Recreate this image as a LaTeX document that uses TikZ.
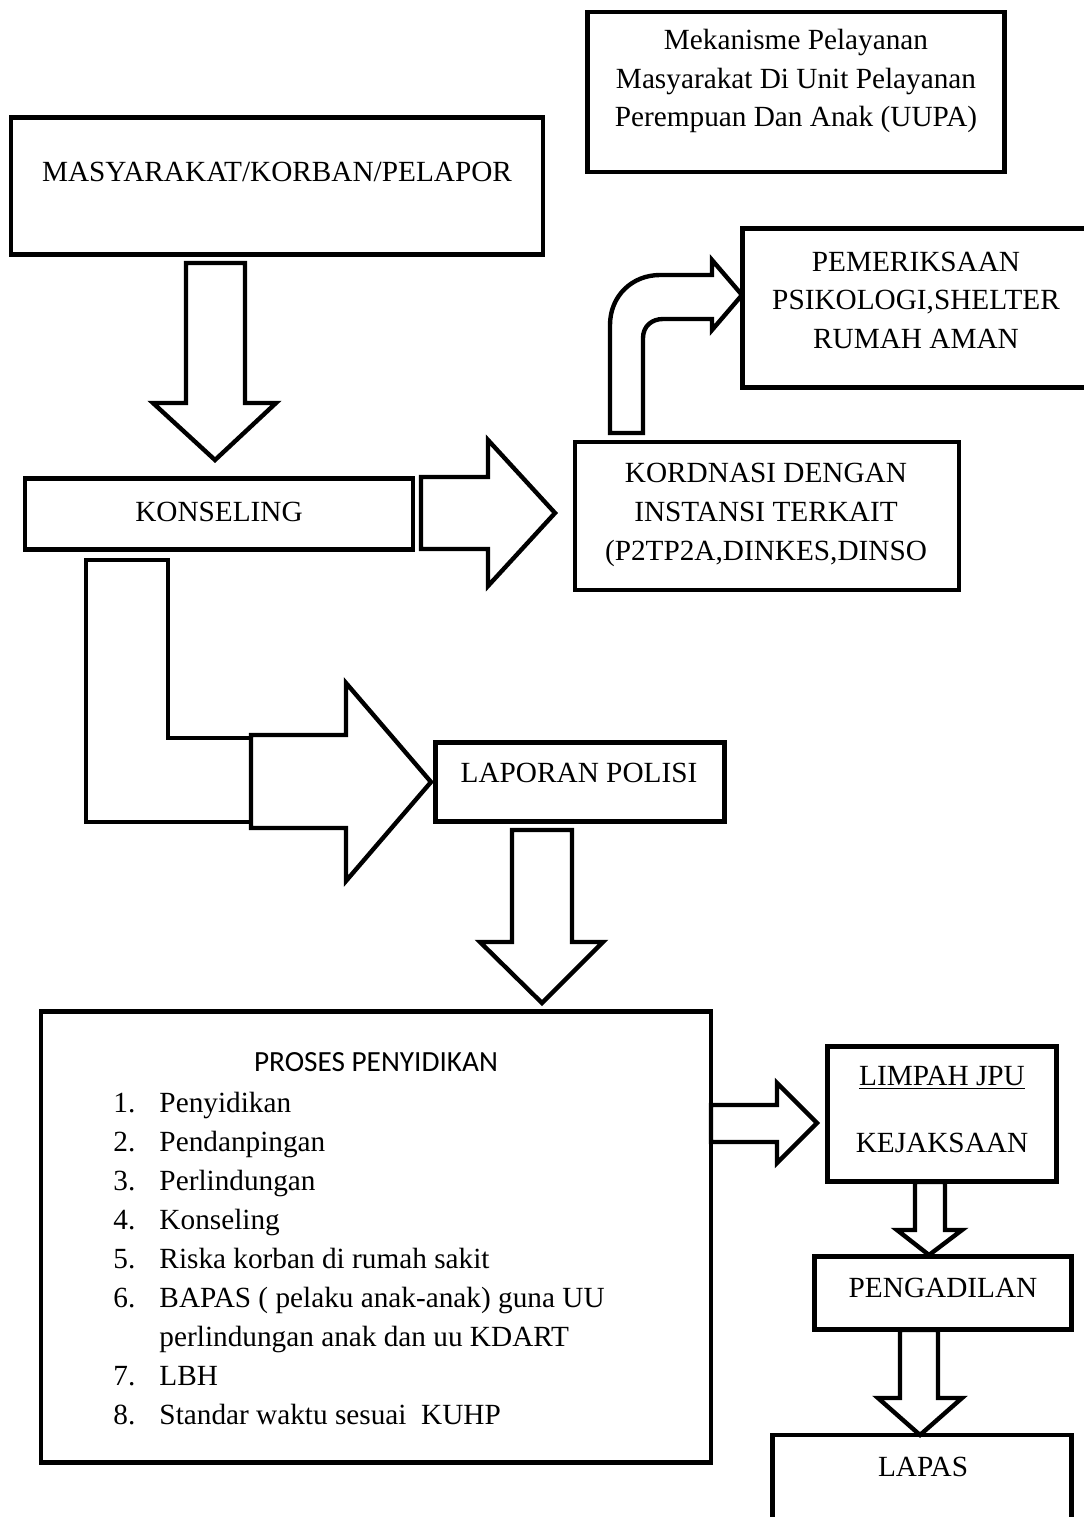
\documentclass[tikz,border=0pt]{standalone}
\usepackage{fontspec}
\setmainfont{Liberation Serif}
\newfontfamily\calibrifont{Carlito}
\usepackage{tikz}
\usetikzlibrary{positioning}

\begin{document}
\begin{tikzpicture}[x=0.41pt,y=-0.41pt,font=\fontsize{12}{14}\selectfont]
  \tikzstyle{box}=[draw=black, line width=1.8pt, fill=white, inner sep=0pt]
  \tikzstyle{blockarrow}=[draw=black, line width=1.8pt, fill=white, line join=miter]
  \tikzstyle{txt}=[align=center, inner sep=0pt, text=black]
  \tikzstyle{item}=[anchor=base west, inner sep=0pt, text=black]

  \path[use as bounding box] (0,0) rectangle (1084,1517);

  % boxes
  \node[box, minimum width=417*0.41pt, minimum height=160*0.41pt] (title) at (796,92) {};
  \node[box, minimum width=532*0.41pt, minimum height=137*0.41pt] (masy) at (277,186) {};
  \node[box, minimum width=388*0.41pt, minimum height=71*0.41pt] (konseling) at (219,514) {};
  \node[box, minimum width=384*0.41pt, minimum height=148*0.41pt] (koordinasi) at (767,516) {};
  \node[box, minimum width=355*0.41pt, minimum height=159*0.41pt] (periksa) at (920,308) {};
  \node[box, minimum width=289*0.41pt, minimum height=79*0.41pt] (laporan) at (580,782) {};
  \node[box, minimum width=670*0.41pt, minimum height=451*0.41pt] (proses) at (376,1237) {};
  \node[box, minimum width=229*0.41pt, minimum height=135*0.41pt] (limpah) at (942,1114) {};
  \node[box, minimum width=257*0.41pt, minimum height=73*0.41pt] (pengadilan) at (943,1293) {};
  \node[box, minimum width=299*0.41pt, minimum height=100*0.41pt] (lapas) at (922,1485) {};

  % texts
  \node[txt, font=\fontsize{12}{15.6}\selectfont] (titletext) at (796,81) {Mekanisme Pelayanan\\Masyarakat Di Unit Pelayanan\\Perempuan Dan Anak (UUPA)};
  \node[txt] (masytext) at (277,172) {MASYARAKAT/KORBAN/PELAPOR};
  \node[txt] (konselingtext) at (219,512) {KONSELING};
  \node[txt, font=\fontsize{12}{16}\selectfont] (koordinasitext) at (766,515) {KORDNASI DENGAN\\INSTANSI TERKAIT\\(P2TP2A,DINKES,DINSO};
  \node[txt, font=\fontsize{12}{15.8}\selectfont] (periksatext) at (916,300) {PEMERIKSAAN\\PSIKOLOGI,SHELTER\\RUMAH AMAN};
  \node[txt] (laporantext) at (579,773) {LAPORAN POLISI};
  \node[txt, font=\calibrifont\fontsize{12}{14}\selectfont] (prosestext) at (376,1062) {PROSES PENYIDIKAN};
  \foreach \n/\row/\t in {1./0/Penyidikan, 2./1/Pendanpingan, 3./2/Perlindungan, 4./3/Konseling,
      5./4/Riska korban di rumah sakit, 6./5/BAPAS ( pelaku anak-anak) guna UU,
      /6/perlindungan anak dan uu KDART, 7./7/LBH, 8./8/Standar waktu sesuai\ \ KUHP} {
    \node[item] (num\row) at (113,1112+39*\row) {\n};
    \node[item] (itm\row) at (159,1112+39*\row) {\t};
  }
  \node[txt] (limpahtext) at (942,1078) {\underline{LIMPAH JPU}};
  \node[txt] (kejaksaantext) at (942,1143) {KEJAKSAAN};
  \node[txt] (pengadilantext) at (943,1288) {PENGADILAN};
  \node[txt] (lapastext) at (923,1467) {LAPAS};

  % block arrows
  \draw[blockarrow] (186,263) -- (245,263) -- (245,403) -- (276,403) -- (215,460) -- (153,403) -- (186,403) -- cycle;
  \draw[blockarrow] (421,477) -- (488,477) -- (488,440) -- (555,513) -- (488,586) -- (488,549) -- (421,549) -- cycle;
  \draw[blockarrow] (610,433) -- (610,325) .. controls (610,296) and (632,275) .. (660,275) -- (712,275) -- (712,260)
    -- (742,295) -- (712,330) -- (712,319) -- (663,319) .. controls (652,319) and (643,326) .. (643,338) -- (643,433) -- cycle;
  \draw[blockarrow] (86,560) -- (168,560) -- (168,738) -- (251,738) -- (251,822) -- (86,822) -- cycle;
  \draw[blockarrow] (251,735) -- (346,735) -- (346,683) -- (431,782) -- (346,881) -- (346,828) -- (251,828) -- cycle;
  \draw[blockarrow] (512,830) -- (572,830) -- (572,942) -- (603,942) -- (542,1003) -- (480,942) -- (512,942) -- cycle;
  \draw[blockarrow] (711,1105) -- (777,1105) -- (777,1083) -- (817,1123) -- (777,1163) -- (777,1142) -- (711,1142) -- cycle;
  \draw[blockarrow] (915,1182) -- (945,1182) -- (945,1230) -- (962,1230) -- (929,1255) -- (897,1230) -- (915,1230) -- cycle;
  \draw[blockarrow] (900,1330) -- (938,1330) -- (938,1398) -- (962,1398) -- (920,1435) -- (878,1398) -- (900,1398) -- cycle;
\end{tikzpicture}
\end{document}
